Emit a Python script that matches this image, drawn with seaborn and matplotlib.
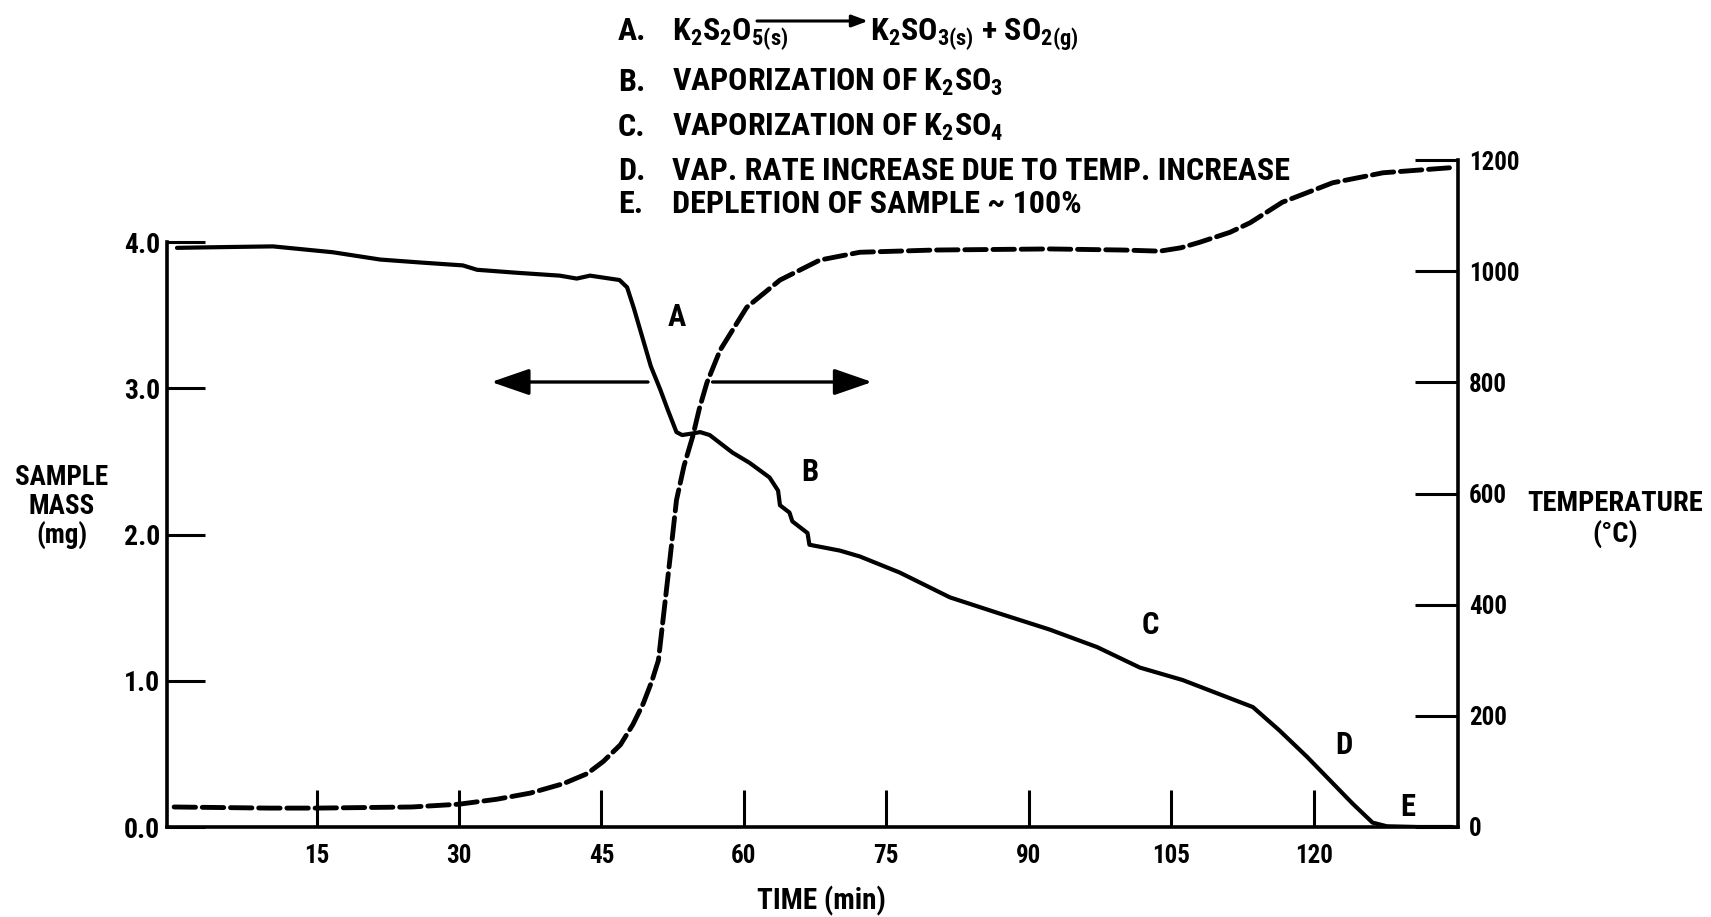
import numpy as np
import pandas as pd
import matplotlib
matplotlib.use("Agg")
import matplotlib.pyplot as plt
from matplotlib import font_manager as fm
import seaborn as sns

# ---------------- data ----------------
mass_time = [0.3, 5.0, 10.4, 16.7, 21.7, 25.9, 30.4, 31.9, 36.0, 40.6, 42.4, 43.8,
             46.9, 47.7, 48.4, 49.3, 50.2, 51.2, 52.0, 52.9, 53.5, 54.5, 55.4, 56.4,
             58.8, 60.6, 62.7, 63.6, 63.8, 64.8, 65.1, 66.7, 66.9, 70.1, 72.2, 76.4,
             81.7, 86.9, 92.2, 97.2, 101.7, 106.2, 110.4, 113.6, 116.4, 119.3, 122.0,
             124.1, 126.2, 127.7, 131.0, 134.6]
mass_mg = [3.96, 3.965, 3.97, 3.93, 3.88, 3.86, 3.84, 3.81, 3.79, 3.77, 3.75, 3.77,
           3.74, 3.69, 3.55, 3.35, 3.15, 2.99, 2.85, 2.70, 2.68, 2.69, 2.70, 2.68,
           2.56, 2.49, 2.39, 2.30, 2.20, 2.15, 2.09, 2.01, 1.93, 1.89, 1.85, 1.74,
           1.57, 1.46, 1.35, 1.23, 1.09, 1.005, 0.90, 0.82, 0.66, 0.48, 0.30,
           0.16, 0.03, 0.005, 0.0, 0.0]

temp_time = [0.0, 5, 10, 15, 20, 25, 27, 30, 34, 37.5, 41, 43.5, 45.2, 47, 48.3,
             49.4, 50.3, 51.0, 51.6, 52.2, 52.9, 53.7, 54.6, 55.3, 56.1, 57.5, 60.3,
             63.8, 68.0, 72.2, 80, 92.2, 100, 103.8, 106, 108.0, 111.2, 113.3, 116.7,
             122.0, 127.3, 134.3]
temp_c = [36, 35, 34, 34, 35, 36, 38, 41, 50, 61, 78, 96, 118, 148, 184,
          222, 262, 300, 390, 480, 588, 650, 702, 752, 799, 858, 935,
          984, 1020, 1034, 1038, 1040, 1038, 1036, 1042, 1052, 1070, 1087, 1124,
          1159, 1177, 1186]

time_ticks = [15, 30, 45, 60, 75, 90, 105, 120]
mass_ticks = [0.0, 1.0, 2.0, 3.0, 4.0]
mass_ticklabels = ["0.0", "1.0", "2.0", "3.0", "4.0"]
temp_ticks = [0, 200, 400, 600, 800, 1000, 1200]

legend_letters = ["A.", "B.", "C.", "D.", "E."]
legend_texts = [r"K$_2$S$_2$O$_{5(s)}$",
                r"VAPORIZATION OF K$_2$SO$_3$",
                r"VAPORIZATION OF K$_2$SO$_4$",
                "VAP. RATE INCREASE DUE TO TEMP. INCREASE",
                "DEPLETION OF SAMPLE ~ 100%"]
reaction_products = r"K$_2$SO$_{3(s)}$ + SO$_{2(g)}$"

curve_labels = ["A", "B", "C", "D", "E"]
curve_label_t = [52.9, 66.9, 102.8, 123.2, 129.9]
curve_label_m = [3.49, 2.43, 1.38, 0.56, 0.14]

# ---------------- style ----------------
sns.set_theme(style="white")

# pick a condensed face if one is installed
entries = fm.fontManager.ttflist
names = {f.name for f in entries}
stretch = 'normal'
chosen = None
for cand in ['Liberation Sans Narrow', 'DejaVu Sans Condensed', 'Roboto Condensed',
             'Open Sans Condensed', 'Noto Sans Condensed', 'Arial Narrow']:
    if cand in names:
        chosen = cand
        break
if chosen is None:
    for f in entries:
        if f.name == 'DejaVu Sans' and 'ondensed' in f.fname:
            chosen = 'DejaVu Sans'
            stretch = 'condensed'
            break
if chosen is None:
    for f in entries:
        if ('ondensed' in f.fname or 'Narrow' in f.fname) and f.weight in (700, 'bold'):
            chosen = f.name
            stretch = f.stretch
            break
narrow_found = chosen is not None
if chosen is None:
    chosen = 'DejaVu Sans'

plt.rcParams['font.family'] = [chosen, 'DejaVu Sans']
plt.rcParams['font.stretch'] = stretch
plt.rcParams['font.weight'] = 'bold'
plt.rcParams['mathtext.default'] = 'regular'
for k in ('text.color', 'axes.labelcolor', 'xtick.color', 'ytick.color', 'axes.edgecolor'):
    plt.rcParams[k] = 'black'

scale = 1.0 if narrow_found else 0.86   # shrink sizes if only wide font exists
FS_LEG = 23 * scale
FS_XTICK = 18 * scale
FS_YTICK = 20 * scale
FS_Y2TICK = 18 * scale
FS_CURVE = 22 * scale

W, H = 1711, 917
fig = plt.figure(figsize=(W / 100, H / 100), dpi=100)
fig.patch.set_facecolor('white')

ax_left, ax_right, ax_bottom, ax_top = 167, 1458, 827, 160
ax = fig.add_axes([ax_left / W, 1 - ax_bottom / H,
                   (ax_right - ax_left) / W, (ax_bottom - ax_top) / H])
ax.set_facecolor('white')

sns.lineplot(x=mass_time, y=mass_mg, ax=ax, color='black', linewidth=3.0,
             sort=False, estimator=None)
ax2 = ax.twinx()
sns.lineplot(x=temp_time, y=temp_c, ax=ax2, color='black', linewidth=3.5,
             sort=False, estimator=None)
ax2.lines[0].set_dashes((4.4, 1.4))
ax2.lines[0].set_dash_capstyle('round')

ax.set_xlim(-0.75, 135.2)
ax.set_ylim(0, 4.0 * (ax_bottom - ax_top) / (827 - 242))
ax2.set_ylim(0, 1200)

for a in (ax, ax2):
    a.grid(False)
    a.spines['top'].set_visible(False)
ax.spines['right'].set_visible(False)
ax2.spines['left'].set_visible(False)
ax2.spines['bottom'].set_visible(False)
for s in ('left', 'bottom'):
    ax.spines[s].set_linewidth(2.6)
    ax.spines[s].set_color('black')
ax2.spines['right'].set_linewidth(2.6)
ax2.spines['right'].set_color('black')
ax.spines['left'].set_bounds(0, 4.0)

ax.set_xticks(time_ticks)
ax.set_xticklabels([str(t) for t in time_ticks])
ax.set_yticks(mass_ticks)
ax.set_yticklabels(mass_ticklabels)
ax2.set_yticks(temp_ticks)
ax2.set_yticklabels([str(t) for t in temp_ticks])

ax.tick_params(axis='x', direction='in', length=27, width=2.2, pad=12,
               labelsize=FS_XTICK, color='black', labelcolor='black', bottom=True)
ax.tick_params(axis='y', direction='in', length=27, width=2.2, pad=5,
               labelsize=FS_YTICK, color='black', labelcolor='black', left=True)
ax2.tick_params(axis='y', direction='in', length=31, width=2.2, pad=8,
                labelsize=FS_Y2TICK, color='black', labelcolor='black', right=True)
ax.set_xlabel("")
ax.set_ylabel("")
ax2.set_ylabel("")

# axis titles
fig.text(62 / W, 1 - 507 / H, "SAMPLE\nMASS\n(mg)", ha='center', va='center',
         fontsize=19.5 * scale, linespacing=1.1, multialignment='center')
fig.text(1615 / W, 1 - 519 / H, "TEMPERATURE\n(°C)", ha='center', va='center',
         fontsize=20.5 * scale, linespacing=1.1, multialignment='center')
fig.text(821 / W, 1 - 901 / H, "TIME (min)", ha='center', va='center',
         fontsize=21 * scale)

# curve letters
for lab, t, m in zip(curve_labels, curve_label_t, curve_label_m):
    ax.text(t, m, lab, ha='center', va='center', fontsize=FS_CURVE)

# double arrow (mass <- | -> temperature)
arrow_y = (827 - 382) / 146.25
ax.annotate('', xy=(33.4, arrow_y), xytext=(49.9, arrow_y),
            arrowprops=dict(arrowstyle='-|>,head_length=1.3,head_width=0.45',
                            lw=2.4, color='black', shrinkA=0, shrinkB=0,
                            mutation_scale=18))
ax.annotate('', xy=(73.5, arrow_y), xytext=(56.7, arrow_y),
            arrowprops=dict(arrowstyle='-|>,head_length=1.3,head_width=0.45',
                            lw=2.4, color='black', shrinkA=0, shrinkB=0,
                            mutation_scale=18))

# legend block at the top
baselines = [40, 91, 136, 180, 213]
for letter, txt, yb in zip(legend_letters, legend_texts, baselines):
    fig.text(618 / W, 1 - yb / H, letter, ha='left', va='baseline', fontsize=FS_LEG)
    fig.text(672 / W, 1 - yb / H, txt, ha='left', va='baseline', fontsize=FS_LEG)
fig.text(870 / W, 1 - baselines[0] / H, reaction_products, ha='left',
         va='baseline', fontsize=FS_LEG)
ax.annotate('', xy=(868 / W, 1 - 21 / H), xytext=(757 / W, 1 - 21 / H),
            xycoords='figure fraction', textcoords='figure fraction',
            arrowprops=dict(arrowstyle='-|>,head_length=0.8,head_width=0.3',
                            lw=2.2, color='black', shrinkA=0, shrinkB=0,
                            mutation_scale=12), annotation_clip=False)

fig.savefig("out.png", dpi=100, facecolor='white')
